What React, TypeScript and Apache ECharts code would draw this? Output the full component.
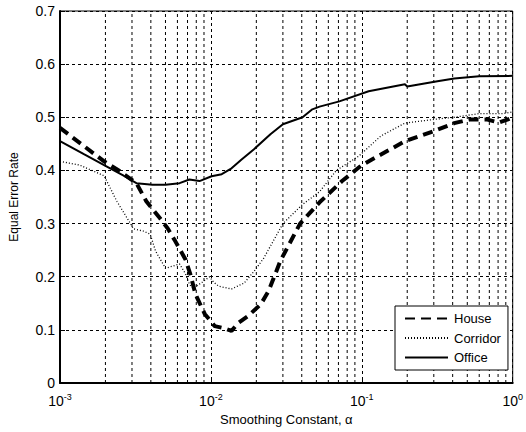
import React, { useEffect, useRef } from "react";
import * as echarts from "echarts";

// Smoothing constant (alpha) vs. equal error rate, one curve per environment
const houseAlpha = [0.001, 0.00196, 0.00245, 0.00321, 0.00373, 0.0046, 0.0052, 0.0058, 0.0068, 0.0073, 0.0079, 0.0091, 0.0106, 0.0123, 0.0137, 0.0152, 0.0176, 0.0214, 0.0241, 0.0289, 0.039, 0.0525, 0.074, 0.1, 0.134, 0.193, 0.3, 0.41, 0.52, 0.67, 0.81, 0.93, 1.0];
const houseEER = [0.48, 0.417, 0.4, 0.376, 0.342, 0.31, 0.29, 0.267, 0.232, 0.205, 0.167, 0.13, 0.107, 0.103, 0.098, 0.113, 0.126, 0.148, 0.173, 0.23, 0.3, 0.34, 0.38, 0.41, 0.43, 0.455, 0.474, 0.489, 0.496, 0.496, 0.49, 0.496, 0.5];

const corridorAlpha = [0.001, 0.00135, 0.00196, 0.00238, 0.00293, 0.00307, 0.00356, 0.00396, 0.0043, 0.005, 0.0056, 0.0062, 0.0068, 0.0072, 0.0076, 0.0088, 0.0098, 0.0104, 0.0113, 0.0137, 0.0166, 0.0193, 0.0224, 0.03, 0.0405, 0.0525, 0.0678, 0.0955, 0.134, 0.193, 0.3, 0.41, 0.6, 0.87, 1.0];
const corridorEER = [0.417, 0.41, 0.39, 0.342, 0.3, 0.29, 0.286, 0.28, 0.248, 0.216, 0.22, 0.224, 0.205, 0.186, 0.178, 0.19, 0.2, 0.19, 0.182, 0.177, 0.188, 0.21, 0.235, 0.3, 0.336, 0.36, 0.4, 0.427, 0.465, 0.489, 0.496, 0.5, 0.507, 0.507, 0.51];

const officeAlpha = [0.001, 0.00145, 0.00196, 0.00264, 0.00321, 0.0041, 0.005, 0.0062, 0.0072, 0.0084, 0.0101, 0.0118, 0.0137, 0.0159, 0.0193, 0.0248, 0.03, 0.0405, 0.047, 0.0525, 0.071, 0.111, 0.193, 0.2, 0.317, 0.41, 0.6, 1.0];
const officeEER = [0.455, 0.43, 0.41, 0.39, 0.376, 0.373, 0.373, 0.376, 0.383, 0.38, 0.389, 0.393, 0.404, 0.42, 0.44, 0.468, 0.487, 0.5, 0.515, 0.52, 0.53, 0.549, 0.562, 0.558, 0.568, 0.573, 0.577, 0.578];

const seriesNames = ["House", "Corridor", "Office"];

// Decades of the log axis; vertical grid lines sit at 2..9 times each decade
const decades = [0.001, 0.01, 0.1];
const gridMultipliers = [2, 3, 4, 5, 6, 7, 8, 9];

const Y_MIN = 0;
const Y_MAX = 0.7;

const FONT = "'Liberation Sans', Arial, Helvetica, sans-serif";
const DASH = [3, 3];

const zip = (xs: number[], ys: number[]) => xs.map((x, i) => [x, ys[i]]);

export default function App() {
  const ref = useRef<HTMLDivElement>(null);

  useEffect(() => {
    if (!ref.current) return;
    const chart = echarts.init(ref.current, undefined, { renderer: "svg" });

    const minorGrid = decades.flatMap((d) => gridMultipliers.map((m) => [m * d]));
    const dashed = { color: "#000", width: 1, type: DASH };

    chart.setOption({
      animation: false,
      backgroundColor: "#fff",
      textStyle: { fontFamily: FONT, color: "#000" },
      grid: {
        left: 55,
        right: 9,
        top: 11,
        bottom: 49,
        show: true,
        borderColor: "#000",
        borderWidth: 1,
        backgroundColor: "#fff",
      },
      legend: {
        data: seriesNames,
        orient: "vertical",
        left: 395,
        top: 306,
        padding: [6, 7, 6, 9],
        itemWidth: 43,
        itemHeight: 14,
        itemGap: 6.5,
        backgroundColor: "#fff",
        borderColor: "#000",
        borderWidth: 1,
        borderRadius: 0,
        itemStyle: { opacity: 0, borderWidth: 0 },
        textStyle: { fontFamily: FONT, fontSize: 13, color: "#000", padding: [0, 0, 0, 1] },
      },
      xAxis: {
        type: "log",
        logBase: 10,
        min: 0.001,
        max: 1,
        name: "Smoothing Constant, \u03b1",
        nameLocation: "middle",
        nameGap: 24,
        nameTextStyle: { fontFamily: FONT, fontSize: 13, color: "#000" },
        axisLine: { lineStyle: { color: "#000", width: 2 } },
        axisTick: { inside: true, length: 5, lineStyle: { color: "#000" } },
        splitLine: { show: true, lineStyle: dashed },
        axisLabel: {
          margin: 9,
          formatter: (v: number) => `{b|10}{s|${Math.round(Math.log10(v))}}`,
          rich: {
            b: { fontFamily: FONT, fontSize: 14, color: "#000" },
            s: { fontFamily: FONT, fontSize: 9, color: "#000", padding: [0, 0, 9, 0] },
          },
        },
      },
      yAxis: {
        type: "value",
        min: Y_MIN,
        max: Y_MAX,
        interval: 0.1,
        name: "Equal Error Rate",
        nameLocation: "middle",
        nameGap: 40,
        nameTextStyle: { fontFamily: FONT, fontSize: 12, color: "#000" },
        axisLine: { show: true, lineStyle: { color: "#000", width: 2 } },
        axisTick: { show: true, inside: true, length: 5, lineStyle: { color: "#000" } },
        splitLine: { show: true, lineStyle: dashed },
        axisLabel: {
          margin: 5,
          fontFamily: FONT,
          fontSize: 14,
          color: "#000",
          formatter: (v: number) => (v === 0 ? "0" : v.toFixed(1)),
        },
      },
      series: [
        {
          // vertical dashed grid lines at the in-between log positions
          name: "grid",
          type: "custom",
          silent: true,
          z: 1,
          data: minorGrid,
          renderItem: (_params: any, api: any) => {
            const x = api.value(0);
            const p0 = api.coord([x, Y_MIN]);
            const p1 = api.coord([x, Y_MAX]);
            return {
              type: "line",
              shape: { x1: p0[0], y1: p0[1], x2: p1[0], y2: p1[1] },
              style: { stroke: "#000", lineWidth: 1, lineDash: DASH, fill: null },
            };
          },
        },
        {
          name: "House",
          type: "line",
          data: zip(houseAlpha, houseEER),
          symbol: "none",
          z: 4,
          lineStyle: { color: "#000", width: 4, type: [10, 6] },
          itemStyle: { color: "#000" },
        },
        {
          name: "Corridor",
          type: "line",
          data: zip(corridorAlpha, corridorEER),
          symbol: "none",
          z: 3,
          lineStyle: { color: "#000", width: 1.3, type: [1, 2] },
          itemStyle: { color: "#000" },
        },
        {
          name: "Office",
          type: "line",
          data: zip(officeAlpha, officeEER),
          symbol: "none",
          z: 5,
          lineStyle: { color: "#000", width: 2, type: "solid" },
          itemStyle: { color: "#000" },
        },
      ],
    });

    return () => chart.dispose();
  }, []);

  return <div ref={ref} style={{ position: "fixed", left: 0, top: 0, width: 526, height: 432 }} />;
}
